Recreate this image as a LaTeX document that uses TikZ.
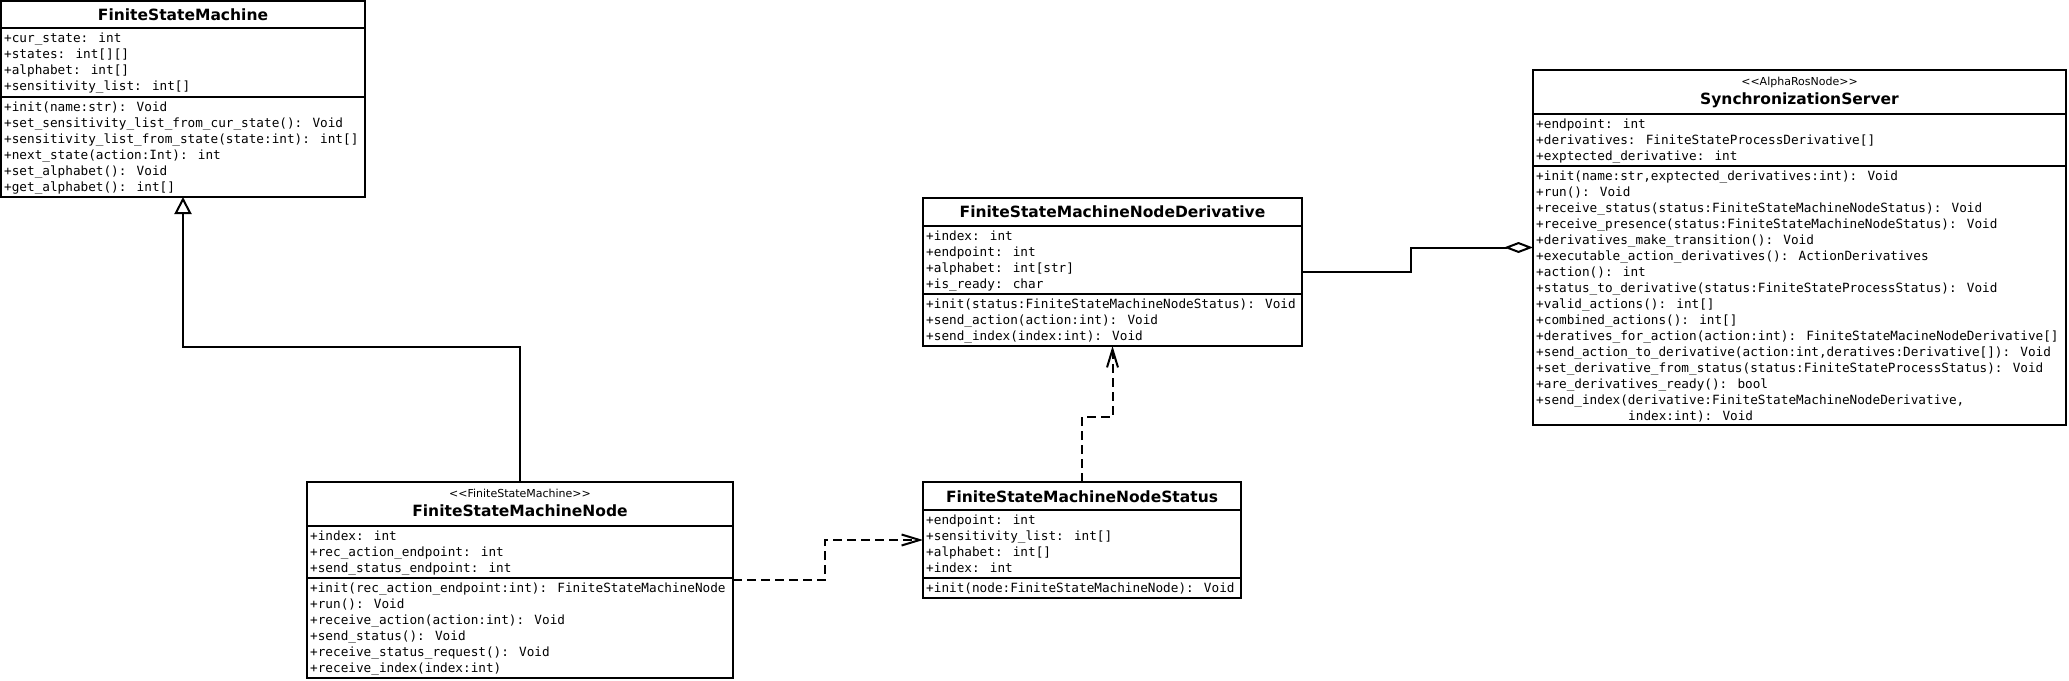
\documentclass[tikz,border=0pt]{standalone}
\usepackage{fontspec}
\newfontfamily\memfont{DejaVu Sans Mono}
\newfontfamily\ttlfont{DejaVu Sans}
\usetikzlibrary{arrows.meta,calc}
\tikzset{
  cls/.style={draw, line width=2pt, inner sep=0pt, outer sep=0pt, anchor=north west},
  sepline/.style={line width=2pt},
  mem/.style={inner sep=0pt, anchor=base west, font=\memfont\fontsize{12.7}{16}\selectfont},
  ttl/.style={inner sep=0pt, anchor=base, font=\ttlfont\bfseries\fontsize{15.5}{18}\selectfont},
  stereo/.style={inner sep=0pt, anchor=base, font=\ttlfont\fontsize{11}{13}\selectfont},
  conn/.style={line width=2pt},
  inherit/.style={conn, -{Triangle[open, length=17pt, width=17pt, line width=2pt]}},
  depend/.style={conn, dash pattern=on 9pt off 5pt, -{Straight Barb[length=18pt, width=11pt, line width=2pt]}},
  aggr/.style={conn, -{Diamond[open, length=29pt, width=11pt, line width=2pt]}},
}
\newcommand\umlsep[2]{\draw[sepline] (#1.north west |- 0,#2) -- (#1.north east |- 0,#2);}
\newcommand\umllines[4]{\foreach \t [count=\i from 0] in {#4} {\node[mem] (#1-\i) at (#2+3, #3+14.8+16*\i) {\t};}}
\begin{document}
\begin{tikzpicture}[x=1pt, y=-1pt]
\useasboundingbox (0,0) rectangle (2069,680);

% FiniteStateMachine
\node[cls, minimum width=364pt, minimum height=196pt] (fsm) at (1,1) {};
\umlsep{fsm}{28}
\umlsep{fsm}{97}
\node[ttl] (fsm-t) at (183,20.3) {FiniteStateMachine};
\umllines{fsma}{1}{28}{+cur\_state: int, +states: int[][], +alphabet: int[], +sensitivity\_list: int[]}
\umllines{fsmm}{1}{97}{+init(name:str): Void, +set\_sensitivity\_list\_from\_cur\_state(): Void, +sensitivity\_list\_from\_state(state:int): int[], +next\_state(action:Int): int, +set\_alphabet(): Void, +get\_alphabet(): int[]}

% FiniteStateMachineNode
\node[cls, minimum width=426pt, minimum height=196pt] (fsmnode) at (307,482) {};
\umlsep{fsmnode}{526}
\umlsep{fsmnode}{578}
\node[stereo] (fsmnode-s) at (520,497) {<\kern0pt<FiniteStateMachine>\kern0pt>};
\node[ttl] (fsmnode-t) at (520,516) {FiniteStateMachineNode};
\umllines{fsmnodea}{307}{526}{+index: int, +rec\_action\_endpoint: int, +send\_status\_endpoint: int}
\umllines{fsmnodem}{307}{578}{+init(rec\_action\_endpoint:int): FiniteStateMachineNode, +run(): Void, +receive\_action(action:int): Void, +send\_status(): Void, +receive\_status\_request(): Void, +receive\_index(index:int)}

% FiniteStateMachineNodeStatus
\node[cls, minimum width=318pt, minimum height=116pt] (status) at (923,482) {};
\umlsep{status}{510}
\umlsep{status}{578}
\node[ttl] (status-t) at (1082,502) {FiniteStateMachineNodeStatus};
\umllines{statusa}{923}{510}{+endpoint: int, +sensitivity\_list: int[], +alphabet: int[], +index: int}
\umllines{statusm}{923}{578}{+init(node:FiniteStateMachineNode): Void}

% FiniteStateMachineNodeDerivative
\node[cls, minimum width=379pt, minimum height=148pt] (deriv) at (923,198) {};
\umlsep{deriv}{226}
\umlsep{deriv}{294}
\node[ttl] (deriv-t) at (1112.5,217.5) {FiniteStateMachineNodeDerivative};
\umllines{deriva}{923}{226}{+index: int, +endpoint: int, +alphabet: int[str], +is\_ready: char}
\umllines{derivm}{923}{294}{+init(status:FiniteStateMachineNodeStatus): Void, +send\_action(action:int): Void, +send\_index(index:int): Void}

% SynchronizationServer
\node[cls, minimum width=533pt, minimum height=355pt] (sync) at (1533,70) {};
\umlsep{sync}{114}
\umlsep{sync}{166}
\node[stereo] (sync-s) at (1799.5,85) {<\kern0pt<AlphaRosNode>\kern0pt>};
\node[ttl] (sync-t) at (1799.5,104.3) {SynchronizationServer};
\umllines{synca}{1533}{114}{+endpoint: int, +derivatives: FiniteStateProcessDerivative[], +exptected\_derivative: int}
\umllines{syncm}{1533}{166}{{+init(name:str,exptected\_derivatives:int): Void}, +run(): Void, +receive\_status(status:FiniteStateMachineNodeStatus): Void, +receive\_presence(status:FiniteStateMachineNodeStatus): Void, +derivatives\_make\_transition(): Void, +executable\_action\_derivatives(): ActionDerivatives, +action(): int, +status\_to\_derivative(status:FiniteStateProcessStatus): Void, +valid\_actions(): int[], +combined\_actions(): int[], +deratives\_for\_action(action:int): FiniteStateMacineNodeDerivative[], {+send\_action\_to\_derivative(action:int,deratives:Derivative[]): Void}, +set\_derivative\_from\_status(status:FiniteStateProcessStatus): Void, +are\_derivatives\_ready(): bool, {+send\_index(derivative:FiniteStateMachineNodeDerivative,}}
\node[mem] (syncm-15) at (1536+92,166+14.8+16*15) {index:int): Void};

% connectors
\draw[inherit] (fsmnode.north) -- (fsmnode.north |- 0,347) -| (fsm.south);
\draw[depend] (fsmnode.east) -- (825,0 |- fsmnode.east) |- (status.west);
\draw[depend] (status.north) -- (status.north |- 0,417) -| (deriv.south);
\draw[aggr] (deriv.east) -- (1411,0 |- deriv.east) |- (sync.west);
\end{tikzpicture}
\end{document}
